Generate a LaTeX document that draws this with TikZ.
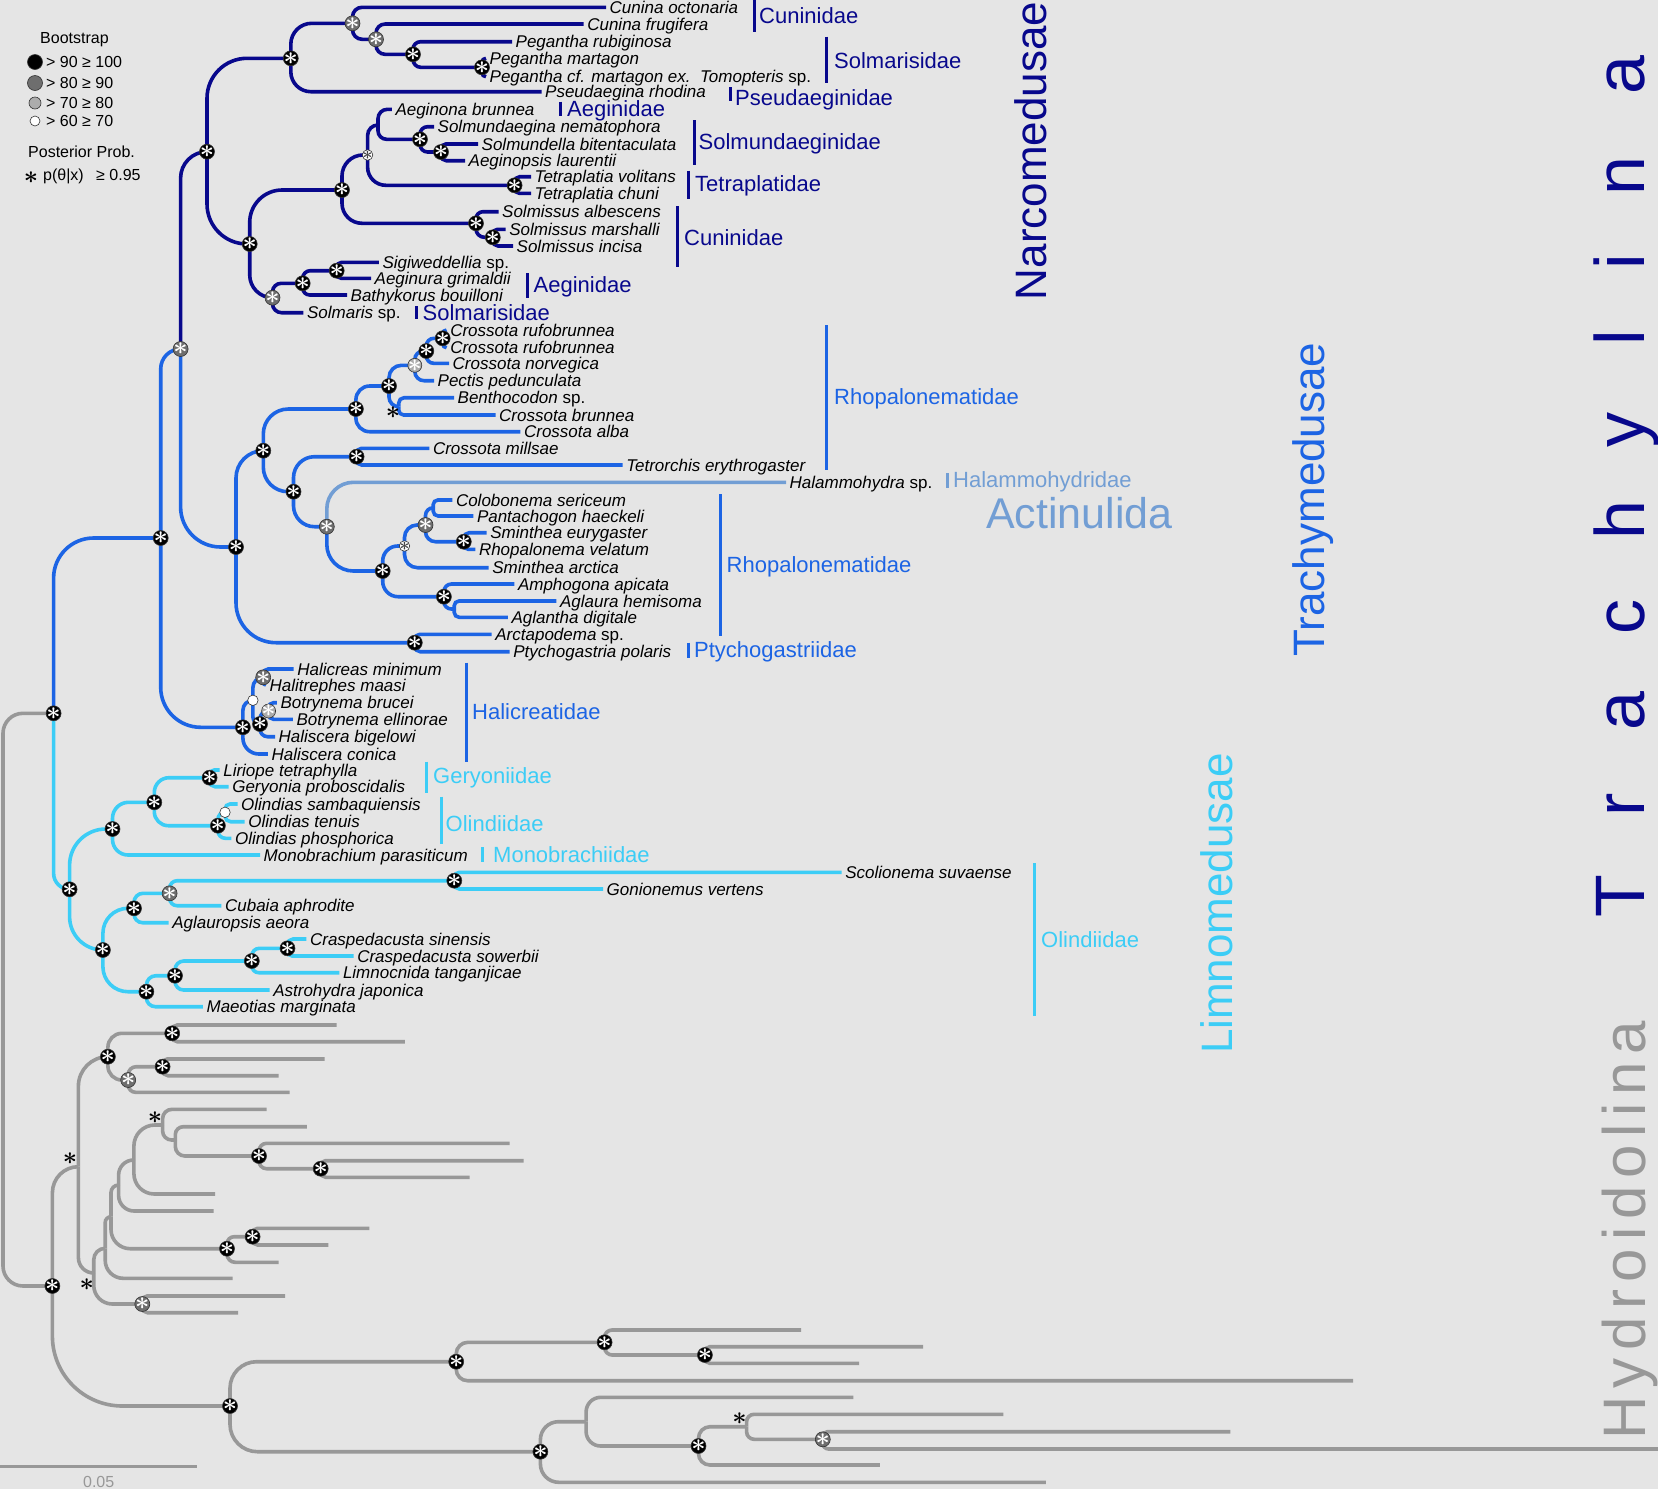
\documentclass[tikz,border=0pt]{standalone}
\usepackage{fontspec}
\setmainfont{Liberation Sans}
\usetikzlibrary{calc}

\definecolor{bgcol}{RGB}{229,229,229}
\definecolor{narcoblue}{RGB}{8,8,140}
\definecolor{trachyblue}{RGB}{28,100,228}
\definecolor{actinblue}{RGB}{114,158,212}
\definecolor{limnocyan}{RGB}{60,205,246}
\definecolor{hydrogray}{RGB}{152,152,152}
\definecolor{bsdark}{RGB}{110,110,110}
\definecolor{bslight}{RGB}{172,172,172}

% elbow branch: [max radius]{style}{parent}{child}
\newcommand{\br}[4][40]{%
  \draw[#2] let \p1=(#3), \p2=(#4),
    \n1={min(#1,0.6*abs((\y2)-(\y1)),abs((\x2)-(\x1)))} in
    (#3) [rounded corners=\n1] |- (#4);}
% family bar: colour, name, bar x, top, bottom, text x, text y, text
\newcommand{\clade}[8]{%
  \draw[draw=#1, line width=3pt] (#3,#4) -- (#3,#5);
  \node[fam, text=#1] (#2) at (#6,#7) {#8};}

\begin{document}
\begin{tikzpicture}[
    x=1pt, y=-1pt,
    br/.style={line width=3.6pt},
    narco/.style={br, draw=narcoblue},
    trachy/.style={br, draw=trachyblue},
    actin/.style={br, draw=actinblue},
    limno/.style={br, draw=limnocyan},
    hydro/.style={br, draw=hydrogray},
    sp/.style={anchor=west, inner xsep=3.5pt, inner ysep=0pt, text height=12.2pt, text depth=0pt, font=\fontsize{17}{17}\selectfont\itshape},
    fam/.style={anchor=west, inner sep=0pt, text height=15.8pt, text depth=0pt, font=\fontsize{22}{22}\selectfont},
    bsmark/.style={circle, inner sep=-3pt, draw=black!80, line width=0.6pt, text=white, font=\fontsize{25}{25}\selectfont\boldmath},
    b100/.style={bsmark, fill=black, minimum size=15pt},
    b90/.style={bsmark, fill=bsdark, minimum size=15pt},
    b80/.style={bsmark, fill=bslight, minimum size=14pt},
    b70/.style={bsmark, fill=white, minimum size=10.5pt},
    wstar/.style={b70, text=black!75, font=\fontsize{16}{16}\selectfont\boldmath},
    pp/.style={inner sep=0pt, font=\fontsize{24}{24}\selectfont\boldmath},
    legtext/.style={anchor=west, inner sep=0pt, text height=11.5pt, text depth=0pt, font=\fontsize{16}{16}\selectfont},
    cladename/.style={rotate=90, anchor=base, inner sep=0pt, font=\fontsize{44}{44}\selectfont}
  ]
  \fill[bgcol] (0,0) rectangle (1658,1489);
  \useasboundingbox (0,0) rectangle (1658,1489);

  % Legend
  \node[legtext] (bstitle) at (40,38) {Bootstrap};
  \node[b100] (leg1) at (35,62) {};
  \node[b90] (leg2) at (35,83) {};
  \node[b80, minimum size=12pt] (leg3) at (35,103) {};
  \node[b70, minimum size=10pt] (leg4) at (35,121) {};
  \node[legtext] (legt1) at (46,62) {> 90 ≥ 100};
  \node[legtext] (legt2) at (46,83) {> 80 ≥ 90};
  \node[legtext] (legt3) at (46,103) {> 70 ≥ 80};
  \node[legtext] (legt4) at (46,121) {> 60 ≥ 70};
  \node[legtext] (pptitle) at (28,152) {Posterior Prob.};
  \node[pp] (legpp) at (31,178) {$\ast$};
  \node[legtext] (legt5) at (43,175) {p(θ|x)\enspace\ ≥ 0.95};

  % Narcomedusae
  \coordinate (nroot) at (207,151.7);
  \coordinate (nA) at (290.8,58.3);
  \coordinate (nB) at (352.5,23.3);
  \coordinate (nC) at (376,39.3);
  \coordinate (nD) at (413,54.3);
  \coordinate (nE) at (482,67.3);
  \coordinate (nF) at (249.7,244);
  \coordinate (nG) at (342,190);
  \coordinate (nH) at (367.6,155);
  \coordinate (nI) at (378,125);
  \coordinate (nJ) at (420,139.3);
  \coordinate (nK) at (441,152);
  \coordinate (nL) at (514.6,185.3);
  \coordinate (nM) at (476,223.3);
  \coordinate (nN) at (492.8,237.3);
  \coordinate (nO) at (272.5,297.7);
  \coordinate (nP) at (302.7,283.3);
  \coordinate (nQ) at (336.7,270.7);

  \node[sp] (cunoct) at (606,7.3) {Cunina octonaria};
  \node[sp] (cunfru) at (583.6,24) {Cunina frugifera};
  \node[sp] (pegrub) at (512,41.7) {Pegantha rubiginosa};
  \node[sp] (pegmar) at (486,58.3) {Pegantha martagon};
  \node[sp] (pegtom) at (486,76.7) {Pegantha cf. martagon ex.\ \ Tomopteris \textup{sp.}};
  \node[sp] (pserho) at (541.5,91.7) {Pseudaegina rhodina};
  \node[sp] (aegbru) at (391.8,109.3) {Aeginona brunnea};
  \node[sp] (solnem) at (434,126.7) {Solmundaegina nematophora};
  \node[sp] (solbit) at (478,144) {Solmundella bitentaculata};
  \node[sp] (aeglau) at (465,160.7) {Aeginopsis laurentii};
  \node[sp] (tetvol) at (531,176.7) {Tetraplatia volitans};
  \node[sp] (tetchu) at (531,193.3) {Tetraplatia chuni};
  \node[sp] (solalb) at (498.5,211.7) {Solmissus albescens};
  \node[sp] (solmar) at (505.7,229.3) {Solmissus marshalli};
  \node[sp] (solinc) at (513,246) {Solmissus incisa};
  \node[sp] (sigsp) at (378.8,262.3) {Sigiweddellia \textup{sp.}};
  \node[sp] (aeggri) at (371,278.3) {Aeginura grimaldii};
  \node[sp] (batbou) at (347,295) {Bathykorus bouilloni};
  \node[sp] (solsp) at (303.4,312.7) {Solmaris \textup{sp.}};

  \clade{narcoblue}{fCun1}{754.4}{0}{31.7}{759}{16}{Cuninidae}
  \clade{narcoblue}{fSol1}{826}{36.7}{83.3}{834}{61}{Solmarisidae}
  \clade{narcoblue}{fPse}{730.5}{87}{101}{735}{98}{Pseudaeginidae}
  \clade{narcoblue}{fAeg1}{560.7}{101.7}{116}{567}{109}{Aeginidae}
  \clade{narcoblue}{fSmd}{694.6}{120}{165}{698.5}{141.7}{Solmundaeginidae}
  \clade{narcoblue}{fTet}{688.4}{170.7}{199.3}{695}{183.3}{Tetraplatidae}
  \clade{narcoblue}{fCun2}{677}{206}{266.7}{684}{237.3}{Cuninidae}
  \clade{narcoblue}{fAeg2}{527}{273}{298}{533.5}{285}{Aeginidae}
  \clade{narcoblue}{fSol2}{416}{306}{319}{422.5}{312.3}{Solmarisidae}

  % Trachymedusae
  \coordinate (trach) at (53.6,713.3);
  \coordinate (tA) at (160.7,538);
  \coordinate (tB) at (180.6,349);
  \coordinate (tC) at (236,547);
  \coordinate (tD) at (263.3,450.7);
  \coordinate (tE) at (355.9,409);
  \coordinate (tF) at (389,386);
  \coordinate (tG) at (414.8,365.3);
  \coordinate (tH) at (426.3,351);
  \coordinate (tI) at (442.7,338.3);
  \coordinate (tJ) at (398.7,406.7);
  \coordinate (tK) at (293.5,491.7);
  \coordinate (tL) at (356.6,456.7);
  \coordinate (tM) at (326.8,526.7);
  \coordinate (tN) at (382.7,571);
  \coordinate (tO) at (404.5,546);
  \coordinate (tP) at (425.5,525);
  \coordinate (tQ) at (433.2,507.8);
  \coordinate (tR) at (463.8,541.7);
  \coordinate (tS) at (443.9,596.7);
  \coordinate (tT) at (454.2,609);
  \coordinate (tU) at (414.8,642.7);
  \coordinate (hA) at (242.9,727.3);
  \coordinate (hB) at (252.9,700.3);
  \coordinate (hC) at (263.2,677.3);
  \coordinate (hD) at (260,724);
  \coordinate (hE) at (268.6,711);

  \node[sp] (crorufa) at (446.6,330) {Crossota rufobrunnea};
  \node[sp] (crorufb) at (446.6,347.7) {Crossota rufobrunnea};
  \node[sp] (cronor) at (449,363.3) {Crossota norvegica};
  \node[sp] (pecped) at (434,380.7) {Pectis pedunculata};
  \node[sp] (bensp) at (454,397.7) {Benthocodon \textup{sp.}};
  \node[sp] (crobru) at (495.5,415) {Crossota brunnea};
  \node[sp] (croalb) at (520.4,431.7) {Crossota alba};
  \node[sp] (cromil) at (429.3,448.3) {Crossota millsae};
  \node[sp] (tetery) at (622.6,465) {Tetrorchis erythrogaster};
  \node[sp] (halsp) at (786,482.3) {Halammohydra \textup{sp.}};
  \node[sp] (colser) at (452.3,500) {Colobonema sericeum};
  \node[sp] (panhae) at (473.3,516) {Pantachogon haeckeli};
  \node[sp] (smiery) at (486.7,532.7) {Sminthea eurygaster};
  \node[sp] (rhovel) at (475.3,549.3) {Rhopalonema velatum};
  \node[sp] (smiarc) at (488.6,567.7) {Sminthea arctica};
  \node[sp] (amphapi) at (514.3,584) {Amphogona apicata};
  \node[sp] (aglhem) at (556.4,601) {Aglaura hemisoma};
  \node[sp] (agldig) at (507.8,617.3) {Aglantha digitale};
  \node[sp] (arcsp) at (491.7,634.3) {Arctapodema \textup{sp.}};
  \node[sp] (ptypol) at (509.7,651.7) {Ptychogastria polaris};
  \node[sp] (halmin) at (293.6,669) {Halicreas minimum};
  \node[sp] (halmaa) at (266,685) {Halitrephes maasi};
  \node[sp] (botbru) at (276.8,702.7) {Botrynema brucei};
  \node[sp] (botell) at (292.9,719.3) {Botrynema ellinorae};
  \node[sp] (halbig) at (275,736.7) {Haliscera bigelowi};
  \node[sp] (halcon) at (267.9,754) {Haliscera conica};

  \clade{trachyblue}{fRho1}{826.5}{325}{470}{834}{396.7}{Rhopalonematidae}
  \clade{actinblue}{fHal}{947}{473.3}{487.7}{953}{479.3}{Halammohydridae}
  \clade{trachyblue}{fRho2}{720}{494.3}{636}{726.5}{565}{Rhopalonematidae}
  \clade{trachyblue}{fPty}{688}{642.7}{658.3}{694}{649.3}{Ptychogastriidae}
  \clade{trachyblue}{fHlc}{466}{662.7}{761.7}{472}{711.7}{Halicreatidae}

  % Limnomedusae
  \coordinate (lA) at (69.6,889.3);
  \coordinate (lB) at (112.5,829);
  \coordinate (lC) at (154.3,802.3);
  \coordinate (lD) at (209.6,777.7);
  \coordinate (lE) at (217.9,825.7);
  \coordinate (lF) at (225,812.3);
  \coordinate (lG) at (102.9,950);
  \coordinate (lH) at (134,908.3);
  \coordinate (lI) at (169.6,893.3);
  \coordinate (lJ) at (454.3,880.7);
  \coordinate (lK) at (146.4,991.7);
  \coordinate (lL) at (175,975.7);
  \coordinate (lM) at (251.8,961);
  \coordinate (lN) at (287.5,948.3);

  \node[sp] (lirtet) at (219.6,770) {Liriope tetraphylla};
  \node[sp] (gerpro) at (228.6,786.7) {Geryonia proboscidalis};
  \node[sp] (olisam) at (237.5,804) {Olindias sambaquiensis};
  \node[sp] (oliten) at (244.6,821.7) {Olindias tenuis};
  \node[sp] (olipho) at (231.4,838.3) {Olindias phosphorica};
  \node[sp] (monpar) at (260,855) {Monobrachium parasiticum};
  \node[sp] (scosuv) at (841.7,872.3) {Scolionema suvaense};
  \node[sp] (gonver) at (603,889) {Gonionemus vertens};
  \node[sp] (cubaph) at (221.4,905.7) {Cubaia aphrodite};
  \node[sp] (aglaeo) at (168.6,922.7) {Aglauropsis aeora};
  \node[sp] (crasin) at (306.4,939) {Craspedacusta sinensis};
  \node[sp] (crasow) at (353.6,956) {Craspedacusta sowerbii};
  \node[sp] (limtan) at (339.3,972.7) {Limnocnida tanganjicae};
  \node[sp] (astjap) at (269.6,990) {Astrohydra japonica};
  \node[sp] (maemar) at (202.9,1006.7) {Maeotias marginata};

  \clade{limnocyan}{fGer}{426.8}{761.7}{792.7}{433}{776}{Geryoniidae}
  \clade{limnocyan}{fOli1}{441}{796.7}{844}{445.5}{823.3}{Olindiidae}
  \clade{limnocyan}{fMon}{482}{847.3}{861.7}{493}{855}{Monobrachiidae}
  \clade{limnocyan}{fOli2}{1034.6}{863.3}{1016}{1041}{940}{Olindiidae}

  % Hydroidolina
  \coordinate (rootc) at (3,1000);
  \foreach \nm/\xx/\yy in {hyd0/52.4/1286, yB/78.4/1166.7, yC/107.9/1056.7, yD/172.2/1033.3,
      yE/128.2/1080, yF/162.6/1066.7, yG/93.75/1273, yH/105.2/1248.3, yI/111/1216.7,
      yJ/118.6/1185, yK/133.9/1160, yL/162.6/1125, yM/175.3/1140, yN/259/1156,
      yO/320.7/1168.7, yP/227/1248.7, yQ/252.6/1236.7, yR/142.3/1304, yS/230/1406,
      yT/456.2/1361.7, yU/604.6/1342.3, yV/704.9/1355, yW/540.4/1451.7, yX/586.1/1421.7,
      yY/698.5/1446, yZ/746.6/1426.7, yZZ/822.8/1439.3}
    \coordinate (\nm) at (\xx,\yy);
  \foreach \nm/\xx/\yy in {g1/336.7/1025, g2/404.8/1041.7, g3/324.5/1059, g4/278.6/1075.7,
      g5/289.7/1092.3, g6/266.7/1109.3, g7/306.9/1126.7, g8/509.7/1143.3, g9/523.5/1160.7,
      g10/469.5/1177.3, g11/215/1194, g12/213.5/1211, g13/369.3/1228.3, g14/328.3/1245,
      g15/278.6/1262.3, g16/232.7/1278.3, g17/285/1296, g18/238/1312.7, g19/801/1330,
      g20/923/1346.7, g21/859/1363.3, g22/1353/1380.7, g23/853.3/1397.3, g24/1003.3/1414.3,
      g25/1230.4/1431.7, g26/1658/1449, g27/879.8/1465, g28/1045.9/1482.3}
    \coordinate (\nm) at (\xx,\yy);

  % Branches
  \draw[hydro, rounded corners=20pt] (trach) -| (rootc) |- (hyd0);
  \br{trachy}{trach}{tA}
  \br{limno}{trach}{lA}

  \br{trachy}{tA}{tB}
  \br{trachy}{tA}{hA}
  \br{narco}{tB}{nroot}
  \br{trachy}{tB}{tC}

  \br{narco}{nroot}{nA}
  \br{narco}{nroot}{nF}
  \br{narco}{nA}{nB}
  \br{narco}{nA}{pserho.west}
  \br{narco}{nB}{cunoct.west}
  \br{narco}{nB}{nC}
  \br{narco}{nC}{cunfru.west}
  \br{narco}{nC}{nD}
  \br{narco}{nD}{pegrub.west}
  \br{narco}{nD}{nE}
  \br{narco}{nE}{pegmar.west}
  \br{narco}{nE}{pegtom.west}
  \br{narco}{nF}{nG}
  \br{narco}{nF}{nO}
  \br{narco}{nG}{nH}
  \br{narco}{nG}{nM}
  \br{narco}{nH}{nI}
  \br{narco}{nH}{nL}
  \br{narco}{nI}{aegbru.west}
  \br{narco}{nI}{nJ}
  \br{narco}{nJ}{solnem.west}
  \br{narco}{nJ}{nK}
  \br{narco}{nK}{solbit.west}
  \br{narco}{nK}{aeglau.west}
  \br{narco}{nL}{tetvol.west}
  \br{narco}{nL}{tetchu.west}
  \br{narco}{nM}{solalb.west}
  \br{narco}{nM}{nN}
  \br{narco}{nN}{solmar.west}
  \br{narco}{nN}{solinc.west}
  \br{narco}{nO}{nP}
  \br{narco}{nO}{solsp.west}
  \br{narco}{nP}{nQ}
  \br{narco}{nP}{batbou.west}
  \br{narco}{nQ}{sigsp.west}
  \br{narco}{nQ}{aeggri.west}

  \br{trachy}{tC}{tD}
  \br{trachy}{tC}{tU}
  \br{trachy}{tD}{tE}
  \br{trachy}{tD}{tK}
  \br{trachy}{tE}{tF}
  \br{trachy}{tE}{croalb.west}
  \br{trachy}{tF}{tG}
  \br{trachy}{tF}{tJ}
  \br{trachy}{tG}{tH}
  \br{trachy}{tG}{pecped.west}
  \br{trachy}{tH}{tI}
  \br{trachy}{tH}{cronor.west}
  \br{trachy}{tI}{crorufa.west}
  \br{trachy}{tI}{crorufb.west}
  \br{trachy}{tJ}{bensp.west}
  \br{trachy}{tJ}{crobru.west}
  \br{trachy}{tK}{tL}
  \br{trachy}{tK}{tM}
  \br{trachy}{tL}{cromil.west}
  \br{trachy}{tL}{tetery.west}
  \br{actin}{tM}{halsp.west}
  \br{trachy}{tM}{tN}
  \br{trachy}{tN}{tO}
  \br{trachy}{tN}{tS}
  \br{trachy}{tO}{tP}
  \br{trachy}{tO}{smiarc.west}
  \br{trachy}{tP}{tQ}
  \br{trachy}{tP}{tR}
  \br{trachy}{tQ}{colser.west}
  \br{trachy}{tQ}{panhae.west}
  \br{trachy}{tR}{smiery.west}
  \br{trachy}{tR}{rhovel.west}
  \br{trachy}{tS}{amphapi.west}
  \br{trachy}{tS}{tT}
  \br{trachy}{tT}{aglhem.west}
  \br{trachy}{tT}{agldig.west}
  \br{trachy}{tU}{arcsp.west}
  \br{trachy}{tU}{ptypol.west}
  \br{trachy}{hA}{hB}
  \br{trachy}{hA}{halcon.west}
  \br{trachy}{hB}{hC}
  \br{trachy}{hB}{hD}
  \br{trachy}{hC}{halmin.west}
  \br{trachy}{hC}{halmaa.west}
  \br{trachy}{hD}{hE}
  \br{trachy}{hD}{halbig.west}
  \br{trachy}{hE}{botbru.west}
  \br{trachy}{hE}{botell.west}

  \br{limno}{lA}{lB}
  \br{limno}{lA}{lG}
  \br{limno}{lB}{lC}
  \br{limno}{lB}{monpar.west}
  \br{limno}{lC}{lD}
  \br{limno}{lC}{lE}
  \br{limno}{lD}{lirtet.west}
  \br{limno}{lD}{gerpro.west}
  \br{limno}{lE}{lF}
  \br{limno}{lE}{olipho.west}
  \br{limno}{lF}{olisam.west}
  \br{limno}{lF}{oliten.west}
  \br{limno}{lG}{lH}
  \br{limno}{lG}{lK}
  \br{limno}{lH}{lI}
  \br{limno}{lH}{aglaeo.west}
  \br{limno}{lI}{lJ}
  \br{limno}{lI}{cubaph.west}
  \br{limno}{lJ}{scosuv.west}
  \br{limno}{lJ}{gonver.west}
  \br{limno}{lK}{lL}
  \br{limno}{lK}{maemar.west}
  \br{limno}{lL}{lM}
  \br{limno}{lL}{astjap.west}
  \br{limno}{lM}{lN}
  \br{limno}{lM}{limtan.west}
  \br{limno}{lN}{crasin.west}
  \br{limno}{lN}{crasow.west}

  \br{hydro}{hyd0}{yB}
  \br[70]{hydro}{hyd0}{yS}
  \br{hydro}{yB}{yC}
  \br{hydro}{yB}{yG}
  \br{hydro}{yC}{yD}
  \br{hydro}{yC}{yE}
  \br{hydro}{yD}{g1}
  \br{hydro}{yD}{g2}
  \br{hydro}{yE}{yF}
  \br{hydro}{yE}{g5}
  \br{hydro}{yF}{g3}
  \br{hydro}{yF}{g4}
  \br{hydro}{yG}{yH}
  \br{hydro}{yG}{yR}
  \br{hydro}{yH}{yI}
  \br{hydro}{yH}{g16}
  \br{hydro}{yI}{yJ}
  \br{hydro}{yI}{yP}
  \br{hydro}{yJ}{yK}
  \br{hydro}{yJ}{g12}
  \br{hydro}{yK}{yL}
  \br{hydro}{yK}{g11}
  \br{hydro}{yL}{g6}
  \br{hydro}{yL}{yM}
  \br{hydro}{yM}{g7}
  \br{hydro}{yM}{yN}
  \br{hydro}{yN}{g8}
  \br{hydro}{yN}{yO}
  \br{hydro}{yO}{g9}
  \br{hydro}{yO}{g10}
  \br{hydro}{yP}{yQ}
  \br{hydro}{yP}{g15}
  \br{hydro}{yQ}{g13}
  \br{hydro}{yQ}{g14}
  \br{hydro}{yR}{g17}
  \br{hydro}{yR}{g18}
  \br{hydro}{yS}{yT}
  \br{hydro}{yS}{yW}
  \br{hydro}{yT}{yU}
  \br{hydro}{yT}{g22}
  \br{hydro}{yU}{g19}
  \br{hydro}{yU}{yV}
  \br{hydro}{yV}{g20}
  \br{hydro}{yV}{g21}
  \br{hydro}{yW}{yX}
  \br{hydro}{yW}{g28}
  \br{hydro}{yX}{g23}
  \br{hydro}{yX}{yY}
  \br{hydro}{yY}{yZ}
  \br{hydro}{yY}{g27}
  \br{hydro}{yZ}{g24}
  \br{hydro}{yZ}{yZZ}
  \br{hydro}{yZZ}{g25}
  \br{hydro}{yZZ}{g26}

  % Support values
  \foreach \n in {nroot,nA,nD,nE,nF,nG,nJ,nK,nL,nM,nN,nP,nQ,tA,tC,tD,tE,tF,tH,tI,tK,tL,tN,tR,tS,tU,hA,hD,
      trach,lA,lB,lC,lD,lE,lG,lH,lJ,lK,lL,lM,lN,hyd0,yC,yD,yF,yN,yO,yP,yQ,yS,yT,yU,yV,yW,yY}
    \node[b100] (m-\n) at (\n) {$\ast$};
  \foreach \n in {nB,nC,nO,tB,tM,tP,hC,lI,yE,yR,yZZ}
    \node[b90] (m-\n) at (\n) {$\ast$};
  \foreach \n in {tG,hE}
    \node[b80] (m-\n) at (\n) {$\ast$};
  \foreach \n in {nH,tO}
    \node[wstar] (m-\n) at (\n) {$\ast$};
  \foreach \n in {hB,lF}
    \node[b70] (m-\n) at (\n) {};
  \foreach \n/\xx/\yy in {tJ/393/412.7, yB/70/1158.3, yG/86.7/1285, yL/155/1117.3, yZ/739.4/1418.3}
    \node[pp] (pp-\n) at (\xx,\yy) {$\ast$};

  % Scale bar
  \coordinate (sbL) at (0,1466.7);
  \coordinate (sbR) at (197,1466.7);
  \draw[hydrogray, line width=3pt] (sbL) -- (sbR);
  \node[text=hydrogray, inner sep=0pt, text height=11.5pt, text depth=0pt, font=\fontsize{16}{16}\selectfont] (sblab) at (98.7,1481.7) {0.05};

  % Group names
  \node[cladename, text=narcoblue] (narcom) at (1046,151) {Narcomedusae};
  \node[cladename, text=trachyblue] (trachym) at (1324,499.5) {Trachymedusae};
  \node[cladename, text=limnocyan] (limnom) at (1232,903.5) {Limnomedusae};
  \node[anchor=base west, inner sep=0pt, text=actinblue, font=\fontsize{43}{43}\selectfont] (actinu) at (986,528.3) {Actinulida};
  \node[rotate=90, anchor=base west, inner sep=0pt, text=hydrogray, font=\fontsize{60}{60}\selectfont\addfontfeatures{LetterSpace=13}] (hydroid) at (1645,1440) {Hydroidolina};
  \foreach \ch/\yy [count=\k] in {T/896,r/804.4,a/711,c/617,h/520,y/429.7,l/338,i/262,n/176.3,a/74.8}
    \node[rotate=90, anchor=base, inner sep=0pt, text=narcoblue, font=\fontsize{70}{70}\selectfont] (trl\k) at (1644,\yy) {\ch};
\end{tikzpicture}
\end{document}
